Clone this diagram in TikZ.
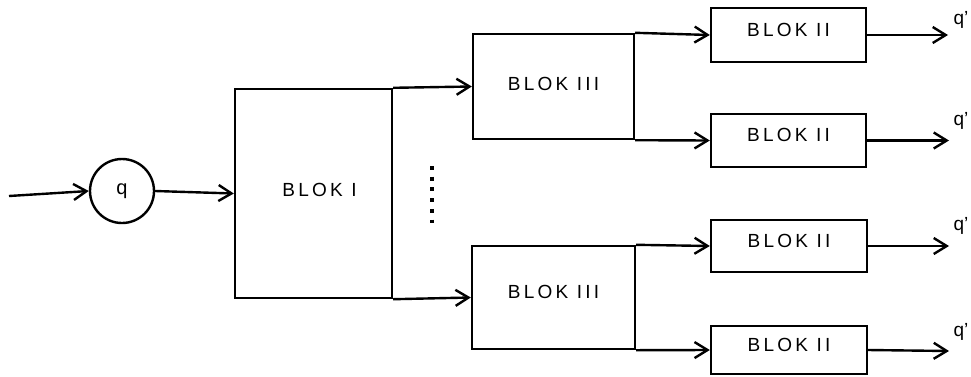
\documentclass[tikz,border=0pt]{standalone}
\usepackage{fontspec}
\setmainfont{Liberation Sans}
\newfontfamily\spacedfont[LetterSpace=17]{Liberation Sans}
\usetikzlibrary{arrows.meta}
\begin{document}
\begin{tikzpicture}[x=1pt,y=-1pt,line width=2.4pt,
  conn/.style={-{Straight Barb[length=13pt,width=16pt]}},
  blok/.style={draw, rectangle, inner sep=0pt, font=\spacedfont\fontsize{19}{22}\selectfont},
  qnode/.style={draw, circle, inner sep=0pt, minimum size=64pt, font=\fontsize{20}{24}\selectfont},
  qlabel/.style={inner sep=0pt, font=\fontsize{19}{22}\selectfont},
  dots/.style={line width=4pt, dash pattern=on 4pt off 6.7pt}
]
\useasboundingbox (0,0) rectangle (971,376);

\coordinate (in) at (9,196);
\node[qnode] (q) at (122,191) {\raisebox{3pt}{q}};

\node[blok, minimum width=157pt, minimum height=209pt, text depth=7pt] (b1) at (313.5,193.5) {\hspace*{12pt}BLOK I};

\node[blok, minimum width=161pt, minimum height=105pt, text depth=6pt] (b3a) at (553.5,86.5) {BLOK III};
\node[blok, minimum width=163pt, minimum height=103pt, text depth=12pt] (b3b) at (553.5,297.5) {BLOK III};

\node[blok, minimum width=155pt, minimum height=54pt, text depth=11pt] (b2a) at (788.5,35) {BLOK II};
\node[blok, minimum width=155pt, minimum height=53pt, text depth=11pt] (b2b) at (788.5,140.5) {BLOK II};
\node[blok, minimum width=156pt, minimum height=52pt, text depth=10pt] (b2c) at (789,246) {BLOK II};
\node[blok, minimum width=156pt, minimum height=48pt, text depth=11pt] (b2d) at (789,350) {BLOK II};

\coordinate (oa) at (948,35);
\coordinate (ob) at (949,140.5);
\coordinate (oc) at (949,246);
\coordinate (od) at (949,351);

\node[qlabel] (la) at (961,20) {q’};
\node[qlabel] (lb) at (961,121) {q’};
\node[qlabel] (lc) at (961,226) {q’};
\node[qlabel] (ld) at (961,332) {q’};

\draw[conn] (in) -- (q.west);
\draw[conn] (q.east) -- (b1.west);
\draw[conn] (b1.north east) -- (b3a.west);
\draw[conn] (b1.south east) -- (b3b.west);
\draw[conn] (b3a.north east) -- (b2a.west);
\draw[conn] (b3a.south east) -- (b2b.west);
\draw[conn] (b3b.north east) -- (b2c.west);
\draw[conn] (b3b.south east) -- (b2d.west);
\draw[conn] (b2a.east) -- (oa);
\draw[conn] (b2b.east) -- (ob);
\draw[conn] (b2c.east) -- (oc);
\draw[conn] (b2d.east) -- (od);

\coordinate (dtop) at (432,166);
\coordinate (dbot) at (432,223.4);
\draw[dots] (dtop) -- (dbot);
\end{tikzpicture}
\end{document}
